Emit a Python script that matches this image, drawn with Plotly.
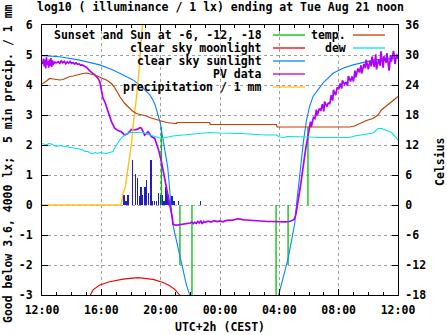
import plotly.graph_objects as go

# ---------------- data (x = hours after Mon 12:00, CEST) ----------------
tick_vals = [0, 4, 8, 12, 16, 20, 24]
tick_text = ["12:00", "16:00", "20:00", "00:00", "04:00", "08:00", "12:00"]
y_ticks = [-3, -2, -1, 0, 1, 2, 3, 4, 5, 6]
y2_ticks = [-18, -12, -6, 0, 6, 12, 18, 24, 30, 36]

# sunset / sun at -6, -12, -18 markers (hour, top value)
sun_event_h = [8.05, 9.30, 10.11, 15.78, 16.59, 17.93]
sun_event_top = [2.6, -2.0, -3.0, -3.0, -2.0, 2.6]

moon_h = [3.2, 3.26, 3.44, 3.89, 4.56, 5.46, 6.47, 7.48, 8.16, 8.61, 8.95, 9.22, 9.28, 9.32]
moon_v = [-3.1, -3.0, -2.83, -2.67, -2.56, -2.47, -2.42, -2.48, -2.58, -2.69, -2.81, -2.94, -3.0, -3.1]

sun_h = [0, 1.2, 2.54, 3.89, 4.79, 5.46, 6.14, 6.59, 7.04, 7.26, 7.48, 7.65, 7.82, 7.98, 8.07,
         8.16, 8.27, 8.39, 8.47, 8.56, 8.62, 8.70, 8.76, 8.83, 8.95, 9.05, 9.28, 9.51, 9.74, 9.96,
         10.2, 15.75, 15.96, 16.14, 16.36, 16.59, 16.81, 17.04, 17.19, 17.33, 17.49, 17.64, 17.83,
         18.05, 18.27, 18.5, 18.94, 19.62, 20.29, 20.97, 21.64, 22.31, 23.22, 24.0]
sun_v = [4.98, 4.94, 4.83, 4.67, 4.5, 4.33, 4.17, 4.0, 3.8, 3.68, 3.5, 3.3, 3.0, 2.72, 2.44,
         2.17, 1.89, 1.61, 1.28, 0.8, 0.35, -0.1, -0.4, -0.67, -0.94, -1.11, -1.67, -2.22, -2.67, -3.0,
         -3.4, -3.4, -3.0, -2.67, -2.22, -1.78, -1.22, -0.6, 0.17, 0.83, 1.5, 2.17, 2.83,
         3.3, 3.62, 3.78, 4.06, 4.39, 4.56, 4.67, 4.76, 4.83, 4.87, 4.89]

pv_h = [0.00, 0.05, 0.10, 0.15, 0.20, 0.25, 0.30, 0.35, 0.40, 0.45, 0.50, 0.55, 0.60, 0.65, 0.70,
        0.75, 0.80, 0.85, 0.90, 1.00, 1.1, 1.2, 1.3, 1.4, 1.5, 1.6, 1.7, 1.8, 1.9, 2.0, 2.1, 2.2,
        2.3, 2.4, 2.5, 2.6, 2.7, 2.8, 2.9, 3.0, 3.22, 3.55, 3.78, 3.9, 4.0, 4.11, 4.23, 4.34, 4.45,
        4.56, 4.68, 4.9, 5.12, 5.35, 5.58, 5.8, 6.03, 6.25, 6.45, 6.6, 6.7, 6.92, 7.15, 7.38, 7.6,
        7.75, 7.89, 8.05, 8.2, 8.39, 8.52, 8.66, 8.79, 8.83, 8.9, 9.0, 9.2, 9.4, 9.6, 9.8, 10.0,
        10.1, 10.2, 10.3, 10.4, 10.5, 10.6, 10.7, 10.8, 10.9, 11.0, 11.2, 11.4, 11.6, 11.8, 12.0,
        12.2, 12.4, 12.6, 12.8, 13.0, 13.2, 13.4, 13.6, 13.8, 14.0, 14.3, 14.6, 14.9, 15.2, 15.5,
        15.8, 16.1, 16.4, 16.7, 16.9, 17.0, 17.1, 17.2, 17.3, 17.4, 17.5, 17.6, 17.7, 17.8, 17.9,
        18.0, 18.1, 18.15, 18.3, 18.4, 18.5, 18.55, 18.7, 18.8, 18.9, 19.0, 19.05, 19.2, 19.3, 19.4,
        19.5, 19.6, 19.65, 19.8, 19.9, 20.0, 20.1, 20.2, 20.25, 20.4, 20.5, 20.6, 20.65, 20.8, 20.9,
        21.0, 21.1, 21.15, 21.3, 21.4, 21.5, 21.55, 21.7, 21.8, 21.85, 22.0, 22.1, 22.2, 22.25, 22.4,
        22.5, 22.55, 22.7, 22.8, 22.85, 23.0, 23.05, 23.2, 23.25, 23.4, 23.5, 23.55, 23.7, 23.8, 23.9,
        24.0]
pv_v = [4.78, 4.70, 4.88, 4.62, 4.85, 4.55, 4.92, 4.68, 4.80, 4.58, 4.86, 4.64, 4.90, 4.60, 4.82,
        4.66, 4.78, 4.72, 4.76, 4.74, 4.78, 4.72, 4.80, 4.74, 4.79, 4.71, 4.77, 4.73, 4.78, 4.72, 4.75, 4.70,
        4.74, 4.69, 4.70, 4.66, 4.67, 4.63, 4.62, 4.59, 4.47, 4.34, 4.22, 4.10, 3.89, 3.56, 3.45, 3.28, 3.10,
        2.97, 2.78, 2.56, 2.48, 2.44, 2.33, 2.39, 2.52, 2.50, 2.53, 2.58, 2.56, 2.33, 2.44, 2.28, 2.22,
        2.00, 1.78, 1.44, 1.06, 0.61, 0.17, -0.17, -0.44, -0.64, -0.66, -0.67, -0.66, -0.65, -0.64, -0.62, -0.60,
        -0.57, -0.62, -0.58, -0.61, -0.55, -0.60, -0.52, -0.63, -0.55, -0.58, -0.54, -0.57, -0.52, -0.55, -0.53,
        -0.56, -0.52, -0.50, -0.51, -0.48, -0.46, -0.47, -0.50, -0.50, -0.51, -0.52, -0.53, -0.54, -0.55, -0.55,
        -0.56, -0.55, -0.56, -0.55, -0.52, -0.48, -0.35, -0.10, 0.25, 0.55, 0.95, 1.35, 1.65, 1.95, 2.20,
        2.50, 2.78, 2.60, 2.92, 2.88, 3.18, 2.98, 3.22, 3.14, 3.36, 3.12, 3.45, 3.28, 3.40, 3.38,
        3.66, 3.48, 3.84, 3.66, 3.92, 3.86, 4.05, 3.88, 4.15, 4.02, 4.10, 3.98, 4.30, 4.12, 4.28,
        4.12, 4.48, 4.26, 4.55, 4.42, 4.66, 4.38, 4.70, 4.56, 4.84, 4.52, 4.80, 4.62, 4.95, 4.60,
        5.02, 4.52, 4.86, 4.64, 5.12, 4.58, 4.96, 4.74, 5.06, 4.48, 5.00, 4.78, 5.14, 4.70, 5.02,
        4.88]

rain_cum_h = [0, 5.31, 5.38, 5.46, 5.55, 5.62, 5.73, 5.87, 5.96, 6.05, 6.13, 6.25, 6.36, 6.49, 6.59, 6.69, 6.79, 6.85]
rain_cum_v = [0, 0, 0.15, 0.39, 0.5, 0.61, 1.0, 1.44, 1.67, 2.11, 2.61, 3.05, 3.55, 4.2, 4.83, 5.5, 6.1, 6.5]

rain_5min_h = [5.53, 5.66, 5.80, 6.11, 6.31, 6.45, 6.59, 6.67, 6.79, 6.94, 7.06, 7.20, 7.35, 7.46,
               7.58, 7.71, 7.85, 8.00, 8.14, 8.22, 8.36, 8.49, 8.63, 8.76, 8.90, 9.20, 10.68]
rain_5min_v = [0.33, 0.13, 0.33, 1.5, 1.03, 0.9, 0.3, 0.61, 0.35, 0.61, 0.83, 0.4, 1.5, 0.13,
               0.13, 0.13, 0.4, 0.35, 0.35, 0.13, 0.6, 0.35, 0.13, 0.3, 0.13, 0.13, 0.13]

temp_h = [0.0, 0.07, 0.3, 0.52, 0.75, 0.97, 1.2, 1.42, 1.65, 1.87, 2.1, 2.32, 2.55, 2.76, 3.0, 3.22,
          3.4, 3.55, 3.72, 3.89, 4.1, 4.34, 4.5, 4.68, 4.85, 5.02, 5.13, 5.24, 5.4, 5.58, 5.75, 5.91,
          6.1, 6.36, 6.55, 6.70, 6.9, 7.04, 7.25, 7.48, 7.7, 7.94, 8.15, 8.39, 8.7, 9.06, 9.1, 11.3,
          11.35, 15.8, 15.85, 20.74, 21.07, 21.42, 21.87, 22.31, 22.65, 22.88, 23.22, 23.56, 23.78, 24.0]
temp_c = [24.2, 24.3, 24.8, 25.3, 25.2, 25.1, 25.0, 25.1, 25.4, 25.7, 25.8, 26.0, 26.2, 26.3, 26.4, 26.3,
          26.2, 26.0, 25.8, 25.5, 25.3, 25.0, 24.7, 24.3, 23.7, 23.0, 22.3, 21.7, 21.0, 20.3, 19.8, 19.3,
          18.8, 18.3, 18.2, 18.1, 17.9, 17.8, 17.5, 17.3, 17.1, 16.9, 16.7, 16.5, 16.4, 16.3, 16.5, 16.5,
          16.1, 16.1, 15.6, 15.6, 15.8, 16.3, 16.9, 17.3, 18.0, 19.0, 19.8, 20.7, 21.3, 21.7]

dew_h = [0.0, 0.15, 0.3, 0.45, 0.63, 0.8, 0.97, 1.2, 1.42, 1.6, 1.87, 2.1, 2.32, 2.5, 2.76, 2.9, 3.1,
         3.25, 3.44, 3.6, 3.75, 3.89, 4.1, 4.34, 4.55, 4.79, 4.9, 5.02, 5.13, 5.24, 5.4, 5.58, 5.75,
         5.91, 6.36, 6.81, 7.0, 7.26, 7.6, 8.05, 8.39, 8.83, 9.51, 10.63, 11.3, 11.98, 13.33, 15.13,
         15.8, 16.0, 16.36, 16.5, 16.81, 17.5, 18.0, 18.72, 20.74, 21.07, 21.42, 21.87, 22.31, 22.53,
         22.65, 22.9, 23.2, 23.56, 23.78, 24.0]
dew_c = [12.3, 12.1, 12.0, 12.3, 12.2, 11.9, 11.7, 11.9, 11.8, 11.6, 11.5, 11.5, 11.3, 11.2, 11.0, 10.7, 10.7,
         10.4, 10.3, 10.5, 10.3, 10.5, 10.4, 10.3, 10.5, 10.7, 11.4, 12.0, 12.6, 13.0, 13.6, 14.0, 14.3,
         14.5, 14.5, 14.5, 14.3, 14.0, 13.7, 13.3, 13.5, 13.8, 14.0, 14.3, 14.5, 14.4, 14.3, 14.0,
         14.0, 13.6, 13.5, 13.7, 13.7, 13.7, 13.6, 13.5, 13.5, 13.8, 14.0, 14.2, 14.4, 14.9,
         15.3, 15.3, 15.0, 14.5, 13.8, 13.0]

title_text = "log10 ( illuminance / 1 lx) ending at Tue Aug 21 noon"
ylabel_text = "Good below 3.6, 4000 lx;\u00a0 5 min precip. / 1 mm"
y2label_text = "Celsius"
xlabel_text = "UTC+2h (CEST)"

legend1 = [("Sunset and Sun at -6, -12, -18", "#00c000"),
           ("clear sky moonlight", "#f00000"),
           ("clear sky sunlight", "#0a84ff"),
           ("PV data", "#b000ff"),
           ("precipitation / 1 mm", "#ffc020")]
legend2 = [("temp.", "#c04000"), ("dew", "#00e4e4")]

# ---------------- figure ----------------
FONT = dict(family="DejaVu Sans Mono", size=11.5, color="black", weight="bold")
W, H = 447, 335
ML, MR, MT, MB = 42, 49, 25, 40
PW, PH = W - ML - MR, H - MT - MB


def px_x(px):
    return (px - ML) / PW


def px_y(py):
    return (H - MB - py) / PH


fig = go.Figure()

# green sun-event markers
gx, gy = [], []
for h, top in zip(sun_event_h, sun_event_top):
    gx += [h, h, None]
    gy += [0, top, None]
fig.add_trace(go.Scatter(x=gx, y=gy, mode="lines", line=dict(color=legend1[0][1], width=1.3)))
fig.add_trace(go.Scatter(x=moon_h, y=moon_v, mode="lines", line=dict(color=legend1[1][1], width=1.1)))
fig.add_trace(go.Scatter(x=sun_h, y=sun_v, mode="lines", line=dict(color=legend1[2][1], width=1.1)))
fig.add_trace(go.Bar(x=rain_5min_h, y=rain_5min_v, width=0.085, marker=dict(color="#2020c0", line=dict(width=0))))
fig.add_trace(go.Scatter(x=pv_h, y=pv_v, mode="lines", line=dict(color=legend1[3][1], width=1.7)))
fig.add_trace(go.Scatter(x=rain_cum_h, y=rain_cum_v, mode="lines", line=dict(color=legend1[4][1], width=1.4)))
fig.add_trace(go.Scatter(x=temp_h, y=temp_c, yaxis="y2", mode="lines", line=dict(color=legend2[0][1], width=1.2)))
fig.add_trace(go.Scatter(x=dew_h, y=dew_c, yaxis="y2", mode="lines", line=dict(color=legend2[1][1], width=1.1)))

shapes = [dict(type="rect", xref="paper", yref="paper", x0=0, x1=px_x(310), y0=px_y(94), y1=1,
               fillcolor="white", line=dict(width=0), layer="between")]
annotations = []
rows = [35, 48, 61, 74, 87]
for (txt, col), ry in zip(legend1, rows):
    annotations.append(dict(text=txt, xref="paper", yref="paper", x=px_x(263), y=px_y(ry),
                            xanchor="right", yanchor="middle", showarrow=False, font=FONT, borderpad=0))
    shapes.append(dict(type="line", xref="paper", yref="paper", x0=px_x(273), x1=px_x(305),
                       y0=px_y(ry), y1=px_y(ry), line=dict(color=col, width=1.3), layer="above"))
for (txt, col), ry in zip(legend2, rows):
    annotations.append(dict(text=txt, xref="paper", yref="paper", x=px_x(347), y=px_y(ry),
                            xanchor="right", yanchor="middle", showarrow=False, font=FONT, borderpad=0))
    shapes.append(dict(type="line", xref="paper", yref="paper", x0=px_x(353), x1=px_x(385),
                       y0=px_y(ry), y1=px_y(ry), line=dict(color=col, width=1.3), layer="above"))

annotations += [
    dict(text=title_text, xref="paper", yref="paper", x=px_x(220), y=px_y(7), xanchor="center",
         yanchor="middle", showarrow=False, font=FONT),
    dict(text=ylabel_text, xref="paper", yref="paper", x=px_x(8), y=px_y(164), xanchor="center",
         yanchor="middle", showarrow=False, font=FONT, textangle=-90),
    dict(text=y2label_text, xref="paper", yref="paper", x=px_x(440), y=px_y(162), xanchor="center",
         yanchor="middle", showarrow=False, font=FONT, textangle=-90),
    dict(text=xlabel_text, xref="paper", yref="paper", x=px_x(220), y=px_y(327), xanchor="center",
         yanchor="middle", showarrow=False, font=FONT),
]

GRID = dict(showgrid=True, gridcolor="#a0a0a0", gridwidth=1, griddash="3px,3px")

fig.update_layout(
    width=W, height=H, margin=dict(l=ML, r=MR, t=MT, b=MB, pad=0),
    paper_bgcolor="white", plot_bgcolor="white", showlegend=False, hovermode=False,
    font=FONT, shapes=shapes, annotations=annotations, bargap=0,
    xaxis=dict(range=[0, 24], tickvals=tick_vals, ticktext=tick_text, ticks="inside", ticklen=6,
               tickcolor="black", showline=True, linecolor="black", linewidth=1, mirror="ticks",
               zeroline=False, ticklabelstandoff=4, tickfont=FONT,
               minor=dict(ticks="inside", ticklen=3, dtick=1, tick0=0, tickcolor="black", showgrid=False),
               **GRID),
    yaxis=dict(range=[-3, 6], tickvals=y_ticks, ticktext=[str(v) for v in y_ticks], ticks="inside",
               ticklen=6, tickcolor="black", showline=True, linecolor="black", linewidth=1, mirror=True,
               zeroline=False, ticklabelstandoff=6, tickfont=FONT, **GRID),
    yaxis2=dict(range=[-18, 36], tickvals=y2_ticks, ticktext=[str(v) for v in y2_ticks], overlaying="y",
                side="right", ticks="inside", ticklen=6, tickcolor="black", showline=True,
                linecolor="black", linewidth=1, showgrid=False, zeroline=False, ticklabelstandoff=4,
                tickfont=FONT),
)

fig.write_html("out.html", config={"displayModeBar": False, "staticPlot": True})
